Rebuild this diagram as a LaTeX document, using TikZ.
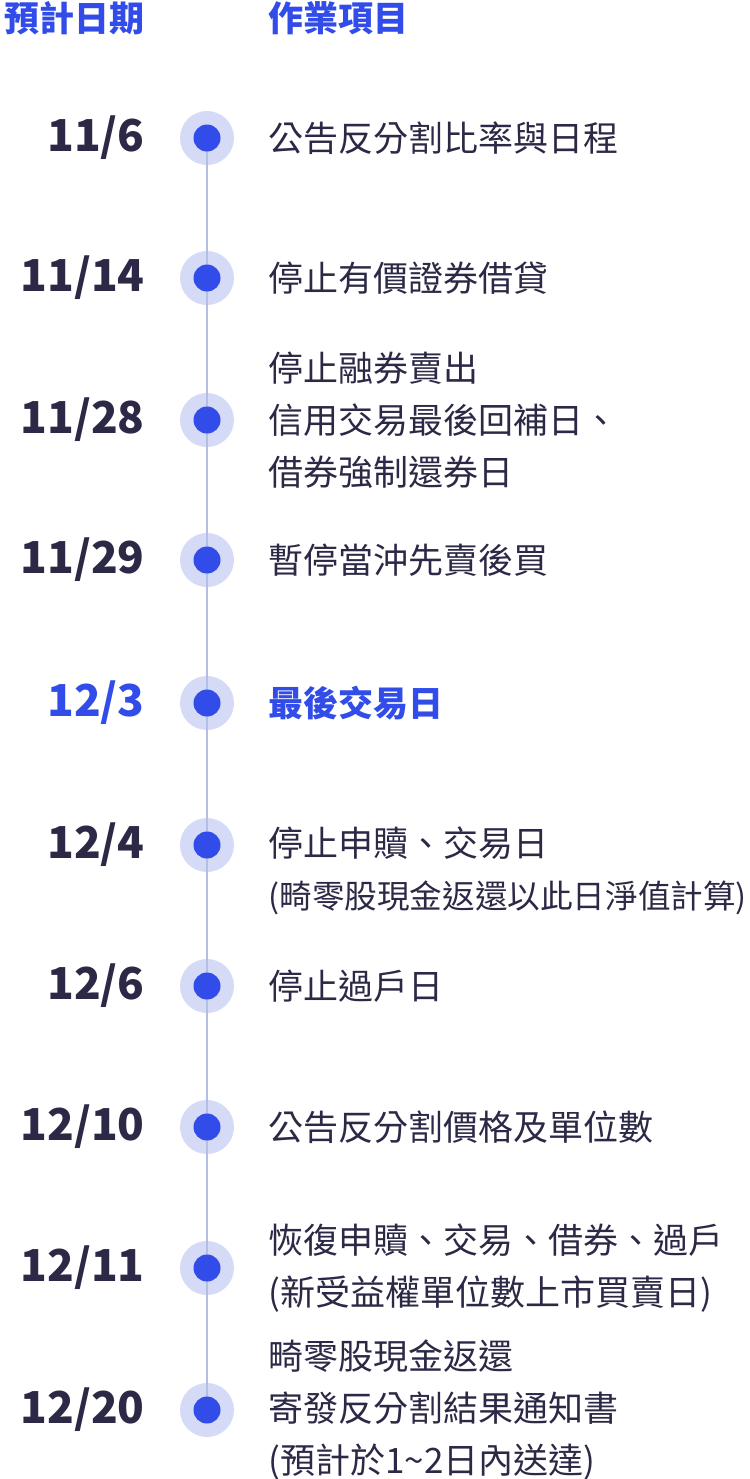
\documentclass[tikz,border=0pt]{standalone}
\usepackage{fontspec}
\setmainfont{Noto Sans CJK TC}
\usepackage{xcolor}
\definecolor{NavyText}{HTML}{2B2945}
\definecolor{MainBlue}{HTML}{314CE8}
\definecolor{HaloBlue}{HTML}{D5DAF7}
\definecolor{LineBlue}{HTML}{B3BFE2}
\tikzstyle{dateLabel}=[anchor=east, inner sep=0pt, font=\fontsize{22pt}{26pt}\selectfont\bfseries, text=NavyText]
\tikzstyle{itemLabel}=[anchor=west, inner sep=0pt, align=left, font=\fontsize{17.5pt}{26pt}\selectfont, text=NavyText]
\tikzstyle{headLabel}=[inner sep=0pt, font=\fontsize{17.5pt}{26pt}\selectfont\bfseries, text=MainBlue]
\tikzstyle{halo}=[circle, fill=HaloBlue, minimum size=27pt, inner sep=0pt]
\tikzstyle{dot}=[circle, fill=MainBlue, minimum size=13.5pt, inner sep=0pt]
\tikzstyle{timeLine}=[draw=LineBlue, line width=1.2pt]

\begin{document}
\begin{tikzpicture}[x=0.5pt,y=-0.5pt]
        \useasboundingbox (0,0) rectangle (750,1479);

        % Headers
        \node[headLabel, anchor=east] (hDate) at (145, 18) {預計日期};
        \node[headLabel, anchor=west] (hItem) at (268, 18) {作業項目};

        % Halos first
        \foreach \i/\y in {1/138, 2/278, 3/420, 4/560, 5/703, 6/845, 7/986, 8/1127, 9/1268, 10/1410}
            \node[halo] (halo\i) at (207, \y) {};

        % Timeline
        \draw[timeLine] (halo1.center) -- (halo10.center);

        % Rows
        \foreach \i/\y/\d/\c in {1/138/11\slash 6/NavyText, 2/278/11\slash 14/NavyText,
                3/420/11\slash 28/NavyText, 4/560/11\slash 29/NavyText, 5/703/12\slash 3/MainBlue,
                6/845/12\slash 4/NavyText, 7/986/12\slash 6/NavyText, 8/1127/12\slash 10/NavyText,
                9/1268/12\slash 11/NavyText, 10/1410/12\slash 20/NavyText} {
            \node[dot] (dot\i) at (207, \y) {};
            \node[dateLabel, text=\c] (date\i) at (145, \y) {\d};
        }

        \node[itemLabel] (item1) at (268, 138) {公告反分割比率與日程};
        \node[itemLabel] (item2) at (268, 278) {停止有價證券借貸};
        \node[itemLabel] (item3) at (268, 420) {停止融券賣出\\信用交易最後回補日、\\借券強制還券日};
        \node[itemLabel] (item4) at (268, 560) {暫停當沖先賣後買};
        \node[itemLabel, text=MainBlue, font=\fontsize{17.5pt}{26pt}\selectfont\bfseries] (item5) at (268, 703) {最後交易日};
        \node[itemLabel] (item6) at (268, 871) {停止申贖、交易日\\{\fontsize{16.3pt}{26pt}\selectfont(畸零股現金返還以此日淨值計算)}};
        \node[itemLabel] (item7) at (268, 986) {停止過戶日};
        \node[itemLabel] (item8) at (268, 1127) {公告反分割價格及單位數};
        \node[itemLabel] (item9) at (268, 1268) {恢復申贖、交易、借券、過戶\\(新受益權單位數上市買賣日)};
        \node[itemLabel] (item10) at (268, 1410) {畸零股現金返還\\寄發反分割結果通知書\\(預計於1\textasciitilde 2日內送達)};

    \end{tikzpicture}
\end{document}
